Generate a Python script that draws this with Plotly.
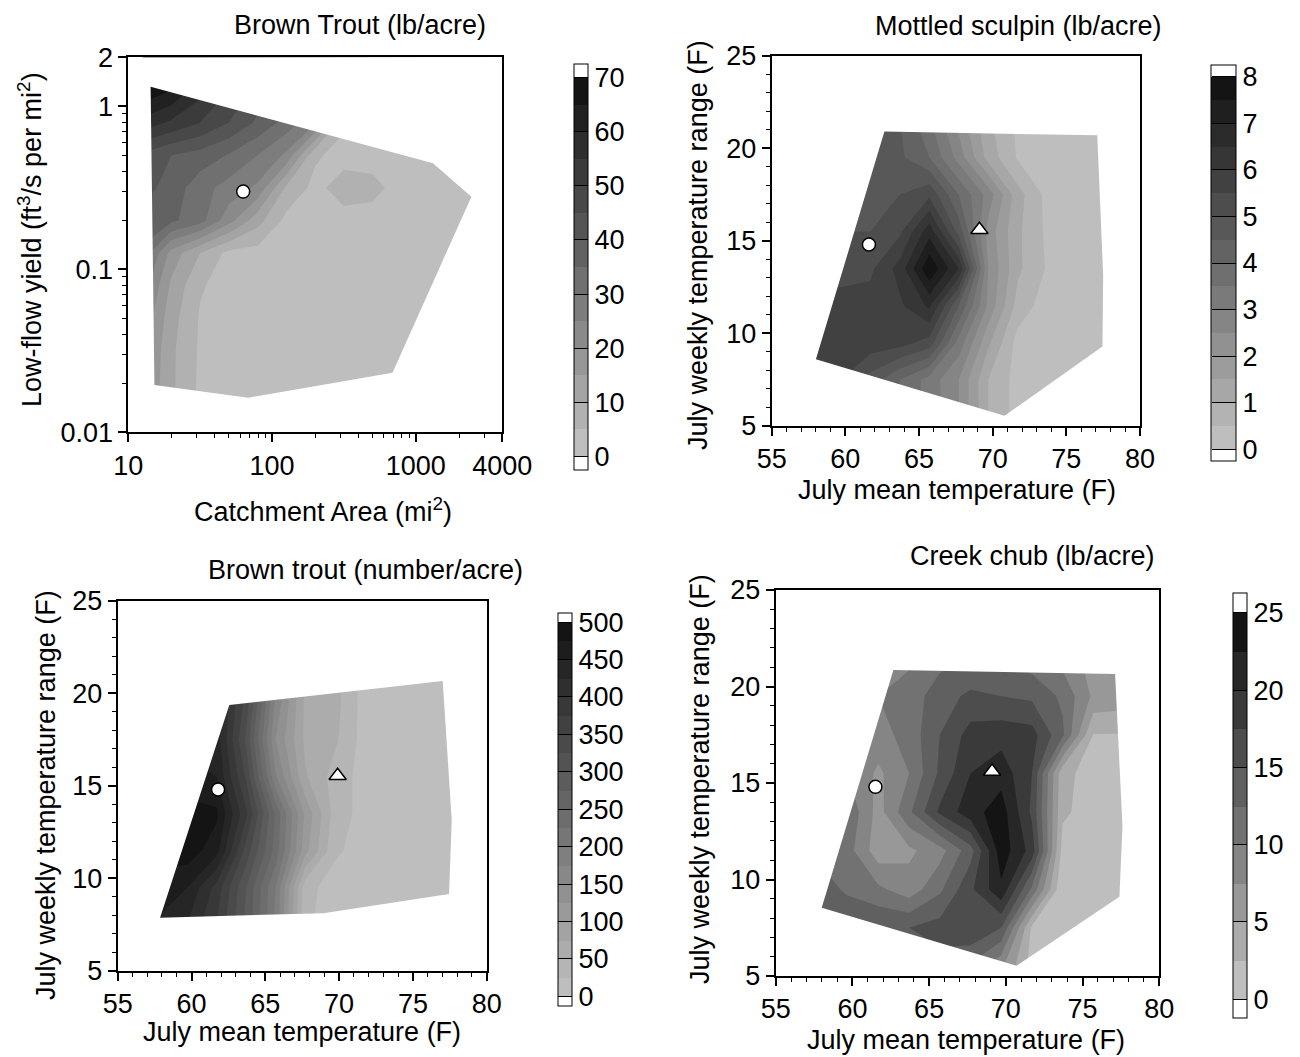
import numpy as np
import plotly.graph_objects as go

W, H = 1300, 1057
OFF = 8  # page offset of the figure inside the browser window
FONT = "Liberation Sans, Arial, sans-serif"
FS = 27

# ---------------- DATA ----------------
# Panel A: Brown Trout (lb/acre) over catchment area (mi2) x low-flow yield
A_AREA = [12.59, 19.95, 31.62, 50.12, 79.43, 125.9, 199.5, 316.2, 501.2, 794.3, 1259, 1995, 3162]
A_YIELD = [0.01259, 0.01995, 0.03162, 0.05012, 0.07943, 0.1259, 0.1995, 0.3162, 0.5012, 0.7943, 1.259, 1.995]
A_Z = [
    [20, 10, 4.0, 3, 3, 3, 3, 3, 3, 3, 3, 3, 3],
    [21, 11, 4.0, 3, 3, 3, 3, 3, 3, 3, 3, 3, 3],
    [22, 11, 4.3, 3, 3, 3, 3, 3, 3, 3, 3, 3, 3],
    [24, 12, 4.5, 3, 3, 3, 3, 3, 3, 3, 3, 3, 3],
    [28, 14, 5.5, 3, 3, 3, 3, 3, 3, 3, 3, 3, 3],
    [34, 18, 10, 3.5, 3, 3, 3, 3, 3, 3, 3, 3, 3],
    [38, 36, 32, 22, 12, 3.5, 3, 3, 3, 3, 3, 3, 3],
    [42, 38, 32, 28, 24, 9, 3.5, 7.5, 6.5, 3, 3, 3, 3],
    [44, 40, 38, 34.6, 30, 24, 5.8, 3, 3, 3, 3, 3, 3],
    [58, 54, 50, 45, 39, 33, 26, 6, 3, 3, 3, 3, 3],
    [69.5, 65, 57, 50, 43, 36, 29, 12, 3, 3, 3, 3, 3],
    [69.5, 69, 62, 54, 46, 38, 30, 22, 14, 8, 3, 3, 3],
]
A_HULL_X = [14.3, 1318, 2023, 2437, 689, 68.2, 15.2]
A_HULL_Y = [1.32, 0.447, 0.321, 0.279, 0.0232, 0.0163, 0.0195]
A_CIRCLE = (63, 0.30)

# Temperature panels share one grid
T_MEAN = [57.7, 59.7, 61.7, 63.7, 65.7, 67.7, 69.7, 71.7, 73.7, 75.7, 77.7]
T_RANGE = [5.5, 7.5, 9.5, 11.5, 13.5, 15.5, 17.5, 19.5, 21.5]

# Panel B: Mottled sculpin (lb/acre)
B_Z = [
    [6.0, 5.5, 4.8, 4.0, 3.3, 2.5, 1.0, 0.3, 0.3, 0.3, 0.3],
    [6.0, 5.5, 4.8, 4.0, 3.3, 2.5, 1.0, 0.3, 0.3, 0.3, 0.3],
    [5.8, 5.8, 5.8, 5.7, 5.3, 3.3, 1.6, 0.3, 0.3, 0.3, 0.3],
    [5.7, 5.7, 5.7, 5.9, 6.6, 4.5, 2.4, 0.8, 0.25, 0.25, 0.25],
    [5.3, 5.3, 5.4, 6.2, 7.95, 6.5, 2.5, 1.1, 0.45, 0.3, 0.3],
    [5.0, 5.0, 5.0, 5.4, 6.8, 4.8, 2.3, 1.1, 0.4, 0.3, 0.3],
    [4.8, 4.8, 4.8, 5.0, 5.4, 4.0, 2.8, 1.2, 0.35, 0.3, 0.3],
    [4.7, 4.7, 4.7, 4.6, 4.0, 2.8, 1.3, 0.45, 0.3, 0.3, 0.3],
    [4.6, 4.6, 4.6, 4.5, 3.6, 2.3, 1.1, 0.4, 0.3, 0.3, 0.3],
]
B_HULL_X = [58.0, 62.65, 77.1, 77.5, 77.45, 70.8]
B_HULL_Y = [8.6, 20.9, 20.7, 13.1, 9.3, 5.55]
B_CIRCLE = (61.6, 14.8)
B_TRIANGLE = (69.1, 15.6)

# Panel C: Brown trout (number/acre)
C_Z = [
    [440, 420, 370, 290, 190, 30, 12, 12, 12, 12, 12],
    [445, 425, 375, 295, 195, 30, 12, 12, 12, 12, 12],
    [470, 450, 390, 300, 200, 35, 12, 12, 12, 12, 12],
    [480, 490, 460, 340, 240, 110, 30, 13, 12, 12, 12],
    [470, 485, 480, 380, 245, 120, 40, 15, 12, 12, 12],
    [450, 460, 450, 345, 178, 78, 40, 15, 12, 12, 12],
    [440, 440, 440, 320, 150, 70, 55, 15, 12, 12, 12],
    [440, 440, 440, 340, 170, 70, 60, 15, 12, 12, 12],
    [440, 440, 430, 330, 160, 65, 55, 15, 12, 12, 12],
]
C_HULL_X = [57.87, 62.56, 77.02, 77.63, 77.45, 68.93]
C_HULL_Y = [7.88, 19.36, 20.66, 13.15, 9.16, 8.12]
C_CIRCLE = (61.8, 14.8)
C_TRIANGLE = (69.9, 15.55)

# Panel D: Creek chub (lb/acre)
D_Z = [
    [14, 14, 14, 14, 14, 12, 8, 1.5, 1.5, 1.5, 1.5],
    [15, 15, 15, 15, 16, 17.5, 15, 2.0, 0.3, 0.3, 0.3],
    [14, 12, 10.5, 8.5, 12, 17, 22, 12, 0.3, 0.3, 0.3],
    [12, 11, 6, 7, 9, 14, 24, 19, 1.6, 1.5, 1.5],
    [12, 12, 6.5, 12, 18, 21.5, 23.8, 17, 2.9, 1.5, 1.5],
    [10, 10, 7, 10, 15.5, 20, 21.5, 17.5, 3.2, 1.5, 1.5],
    [10, 10, 9, 11, 15, 18.5, 19, 18.5, 13, 2.4, 2.4],
    [10, 10, 10, 11, 14, 15.5, 15, 14.5, 12, 7, 6.5],
    [9, 9, 9, 9.5, 11.5, 12.5, 12, 11, 9, 6.5, 6],
]
D_HULL_X = [58.0, 62.67, 77.12, 77.6, 77.4, 70.7]
D_HULL_Y = [8.54, 20.85, 20.65, 12.74, 9.1, 5.53]
D_CIRCLE = (61.5, 14.8)
D_TRIANGLE = (69.1, 15.6)

# Tick labels
A_XTICKS = [10, 100, 1000, 4000]
A_YTICKS = [0.01, 0.1, 1, 2]
T_XTICKS = [55, 60, 65, 70, 75, 80]
T_YTICKS = [5, 10, 15, 20, 25]

TITLES = ["Brown Trout (lb/acre)", "Mottled sculpin (lb/acre)",
          "Brown trout (number/acre)", "Creek chub (lb/acre)"]
XLABELS = ["Catchment Area (mi<sup>2</sup>)", "July mean temperature (F)",
           "July mean temperature (F)", "July mean temperature (F)"]
YLABELS = ["Low-flow yield (ft<sup>3</sup>/s per mi<sup>2</sup>)", "July weekly temperature range (F)",
           "July weekly temperature range (F)", "July weekly temperature range (F)"]

# ---------------- STYLE / LAYOUT ----------------
def fx(px):
    return (px - OFF) / W


def fy(py):
    return 1 - (py - OFF) / H


PANELS = [
    dict(xd=[fx(128.3), fx(502.3)], yd=[fy(432.3), fy(57.3)]),
    dict(xd=[fx(771.7), fx(1140.0)], yd=[fy(426.0), fy(55.7)]),
    dict(xd=[fx(117.7), fx(486.7)], yd=[fy(971.0), fy(600.7)]),
    dict(xd=[fx(775.7), fx(1159.3)], yd=[fy(976.0), fy(590.0)]),
]


def gray_scale(nc):
    lo, hi = 190, 20
    w = 'rgb(255,255,255)'
    return [[0, w], [0.5 / nc, w], [1.0 / nc, f'rgb({lo},{lo},{lo})'],
            [(nc - 1.0) / nc, f'rgb({hi},{hi},{hi})'], [1 - 0.5 / nc, w], [1, w]]


def cbar(xl, top, bot, thick, tickvals):
    return dict(x=fx(xl), xanchor='left', xpad=0, ypad=0,
                y=fy((top + bot) / 2), yanchor='middle',
                len=(bot - top) / H, lenmode='fraction',
                thickness=thick, thicknessmode='pixels',
                outlinecolor='black', outlinewidth=1,
                tickmode='array', tickvals=tickvals,
                ticks='inside', ticklen=thick, tickcolor='black', tickwidth=1,
                tickprefix='\u00a0\u00a0\u00a0\u2009',
                tickfont=dict(size=FS, color='black', family=FONT))


def mask_xy(hx, hy, x0, x1, y0, y1, logx=False, logy=False):
    tx = np.log10(hx) if logx else np.asarray(hx, float)
    ty = np.log10(hy) if logy else np.asarray(hy, float)
    area = 0.5 * np.sum(tx * np.roll(ty, -1) - np.roll(tx, -1) * ty)
    hx2, hy2 = list(hx), list(hy)
    if area > 0:
        hx2, hy2 = hx2[::-1], hy2[::-1]
    xs = [x0, x1, x1, x0, x0] + hx2 + [hx2[0], x0]
    ys = [y0, y0, y1, y1, y0] + hy2 + [hy2[0], y0]
    return xs, ys


fig = go.Figure()

contour_specs = [
    (A_AREA, A_YIELD, A_Z, 0, 70, 5, cbar(574, 64, 470, 14, list(range(0, 71, 10)))),
    (T_MEAN, T_RANGE, B_Z, 0, 8, 0.5, cbar(1211, 65, 461, 24.5, list(range(0, 9)))),
    (T_MEAN, T_RANGE, C_Z, 0, 500, 25, cbar(557.7, 613, 1005.5, 14, list(range(0, 501, 50)))),
    (T_MEAN, T_RANGE, D_Z, 0, 25, 2.5, cbar(1233.3, 593.4, 1018.6, 14.4, list(range(0, 26, 5)))),
]
hulls = [(A_HULL_X, A_HULL_Y), (B_HULL_X, B_HULL_Y), (C_HULL_X, C_HULL_Y), (D_HULL_X, D_HULL_Y)]
ranges = [((10, 4000), (0.01, 2)), ((55, 80), (5, 25)), ((55, 80), (5, 25)), ((55, 80), (5, 25))]
circles = [A_CIRCLE, B_CIRCLE, C_CIRCLE, D_CIRCLE]
triangles = [None, B_TRIANGLE, C_TRIANGLE, D_TRIANGLE]

for i, (xg, yg, z, s, e, sz, cb) in enumerate(contour_specs):
    xa = 'x' if i == 0 else f'x{i + 1}'
    ya = 'y' if i == 0 else f'y{i + 1}'
    nc = int(round((e - s) / sz)) + 1
    fig.add_trace(go.Contour(
        x=xg, y=yg, z=z, xaxis=xa, yaxis=ya,
        contours=dict(start=s, end=e, size=sz, coloring='fill', showlines=False),
        line=dict(width=0, smoothing=0), colorscale=gray_scale(nc), colorbar=cb,
        hoverinfo='skip'))
    (x0, x1), (y0, y1) = ranges[i]
    mx, my = mask_xy(hulls[i][0], hulls[i][1], x0, x1, y0, y1, logx=(i == 0), logy=(i == 0))
    fig.add_trace(go.Scatter(x=mx, y=my, xaxis=xa, yaxis=ya, mode='lines', fill='toself',
                             fillcolor='white', line=dict(width=0, color='white'),
                             showlegend=False, hoverinfo='skip'))
    if triangles[i] is not None:
        fig.add_trace(go.Scatter(x=[triangles[i][0]], y=[triangles[i][1]], xaxis=xa, yaxis=ya,
                                 mode='markers', showlegend=False, hoverinfo='skip',
                                 marker=dict(symbol='triangle-up', size=15, color='white',
                                             line=dict(color='black', width=1.5))))
    fig.add_trace(go.Scatter(x=[circles[i][0]], y=[circles[i][1]], xaxis=xa, yaxis=ya,
                             mode='markers', showlegend=False, hoverinfo='skip',
                             marker=dict(symbol='circle', size=13, color='white',
                                         line=dict(color='black', width=1.5))))


def axis(domain, rng, tickvals, minor_vals, anchor, typ='linear'):
    return dict(domain=domain, range=rng, type=typ, tickmode='array', tickvals=tickvals,
                ticktext=[str(v) for v in tickvals],
                ticks='outside', ticklen=8, tickwidth=1.5, tickcolor='black',
                showline=True, linecolor='black', linewidth=1.8, mirror=True,
                showgrid=False, zeroline=False, anchor=anchor, fixedrange=True,
                tickfont=dict(size=FS, color='black', family=FONT),
                minor=dict(tickmode='array', tickvals=minor_vals, ticks='outside', ticklen=4,
                           tickwidth=1, tickcolor='black', showgrid=False))


a_xminor = [20, 30, 40, 50, 60, 70, 80, 90, 200, 300, 400, 500, 600, 700, 800, 900, 2000, 3000]
a_yminor = [0.02, 0.03, 0.04, 0.05, 0.06, 0.07, 0.08, 0.09, 0.2, 0.3, 0.4, 0.5, 0.6, 0.7, 0.8, 0.9]
t_xminor = [v for v in range(56, 80) if v % 5]
t_yminor = [v for v in range(6, 25) if v % 5]

layout = dict(width=W, height=H, margin=dict(l=0, r=0, t=0, b=0, pad=0, autoexpand=False),
              autosize=False, paper_bgcolor='white', plot_bgcolor='white', showlegend=False,
              font=dict(family=FONT, color='black'))
layout['xaxis'] = axis(PANELS[0]['xd'], [1, np.log10(4000)], A_XTICKS, a_xminor, 'y', 'log')
layout['yaxis'] = axis(PANELS[0]['yd'], [-2, np.log10(2)], A_YTICKS, a_yminor, 'x', 'log')
for i in range(1, 4):
    layout[f'xaxis{i + 1}'] = axis(PANELS[i]['xd'], [55, 80], T_XTICKS, t_xminor, f'y{i + 1}')
    layout[f'yaxis{i + 1}'] = axis(PANELS[i]['yd'], [5, 25], T_YTICKS, t_yminor, f'x{i + 1}')

fig.update_layout(**layout)

# Titles and axis labels (pixel centres in the window)
title_pos = [(360, 25), (1018, 26), (365, 570), (1032, 556)]
xlab_pos = [(323, 510), (957, 490), (302, 1032), (966, 1040)]
ylab_pos = [(30, 240), (698, 245), (46, 795), (700, 779)]
ann = []
for i in range(4):
    for txt, (px, py), ang in [(TITLES[i], title_pos[i], 0), (XLABELS[i], xlab_pos[i], 0),
                               (YLABELS[i], ylab_pos[i], -90)]:
        ann.append(dict(text=txt, x=fx(px), y=fy(py), xref='paper', yref='paper',
                        xanchor='center', yanchor='middle', showarrow=False, textangle=ang,
                        font=dict(size=FS, color='black', family=FONT)))
fig.update_layout(annotations=ann)

fig.write_html("out.html")
